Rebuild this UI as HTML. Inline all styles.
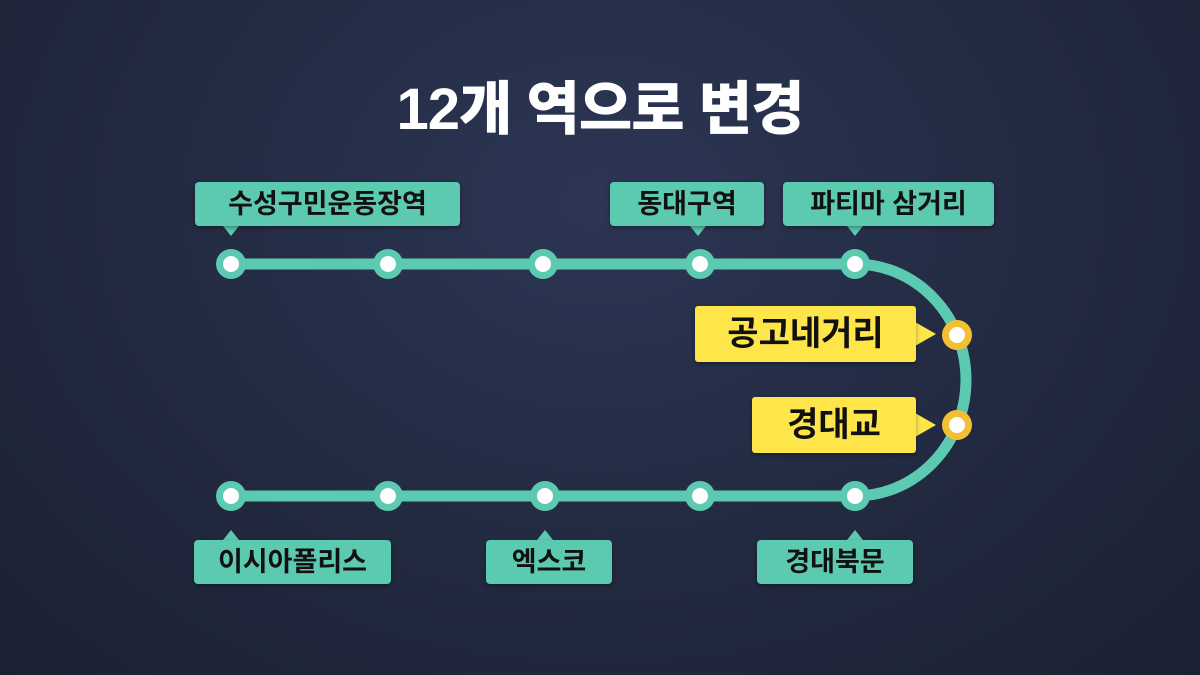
<!DOCTYPE html>
<html><head><meta charset="utf-8"><style>
body{margin:0;width:1200px;height:675px;overflow:hidden;background:radial-gradient(ellipse at 50% 30%,#2c3654 0%,#232b42 50%,#1b2133 100%);font-family:"Liberation Sans","Noto Sans CJK KR",sans-serif;position:relative}
.t{position:absolute;left:0;width:1200px;top:62px;text-align:center;color:#fff;font-size:58px;font-weight:900;letter-spacing:-1px}
.l{position:absolute;background:#5ccab0;color:#111;font-size:27px;font-weight:700;height:44px;line-height:44px;text-align:center;border-radius:4px;box-shadow:0 2px 4px rgba(0,0,0,.35)}
.y{position:absolute;background:#fde54a;color:#111;font-size:34px;font-weight:700;height:56px;line-height:56px;text-align:center;border-radius:3px;box-shadow:0 2px 4px rgba(0,0,0,.35)}
svg{position:absolute;left:0;top:0}
</style></head><body>
<div class="t">12개 역으로 변경</div>
<svg width="1200" height="675">
<g fill="#5ccab0">
<polygon points="223,226 239,226 231,236"/><polygon points="690,226 706,226 698,236"/><polygon points="847,226 863,226 855,236"/>
<polygon points="223,540 239,540 231,530"/><polygon points="537,540 553,540 545,530"/><polygon points="847,540 863,540 855,530"/>
</g>
<g fill="#fde54a"><polygon points="915,322 915,346 936,334"/><polygon points="915,413 915,437 936,425"/></g>
<g stroke="#5ccab0" stroke-width="11" fill="none">
<line x1="231" y1="264" x2="855" y2="264"/><line x1="231" y1="496" x2="855" y2="496"/>
<path d="M855,264 A111 116 0 0 1 855,496"/>
</g>
<g fill="#5ccab0">
<circle cx="231" cy="264" r="15"/><circle cx="388" cy="264" r="15"/><circle cx="543" cy="264" r="15"/><circle cx="700" cy="264" r="15"/><circle cx="855" cy="264" r="15"/>
<circle cx="231" cy="496" r="15"/><circle cx="388" cy="496" r="15"/><circle cx="545" cy="496" r="15"/><circle cx="700" cy="496" r="15"/><circle cx="855" cy="496" r="15"/>
</g>
<g fill="#f4c033"><circle cx="957" cy="335" r="15"/><circle cx="957" cy="425" r="15"/></g>
<g fill="#fff">
<circle cx="231" cy="264" r="8"/><circle cx="388" cy="264" r="8"/><circle cx="543" cy="264" r="8"/><circle cx="700" cy="264" r="8"/><circle cx="855" cy="264" r="8"/>
<circle cx="231" cy="496" r="8"/><circle cx="388" cy="496" r="8"/><circle cx="545" cy="496" r="8"/><circle cx="700" cy="496" r="8"/><circle cx="855" cy="496" r="8"/>
<circle cx="957" cy="335" r="8"/><circle cx="957" cy="425" r="8"/>
</g>
</svg>
<div class="l" style="left:195px;top:182px;width:265px">수성구민운동장역</div>
<div class="l" style="left:610px;top:182px;width:154px">동대구역</div>
<div class="l" style="left:783px;top:182px;width:211px">파티마 삼거리</div>
<div class="l" style="left:194px;top:540px;width:197px">이시아폴리스</div>
<div class="l" style="left:486px;top:540px;width:126px">엑스코</div>
<div class="l" style="left:757px;top:540px;width:156px">경대북문</div>
<div class="y" style="left:695px;top:306px;width:221px">공고네거리</div>
<div class="y" style="left:752px;top:397px;width:164px">경대교</div>
</body></html>
